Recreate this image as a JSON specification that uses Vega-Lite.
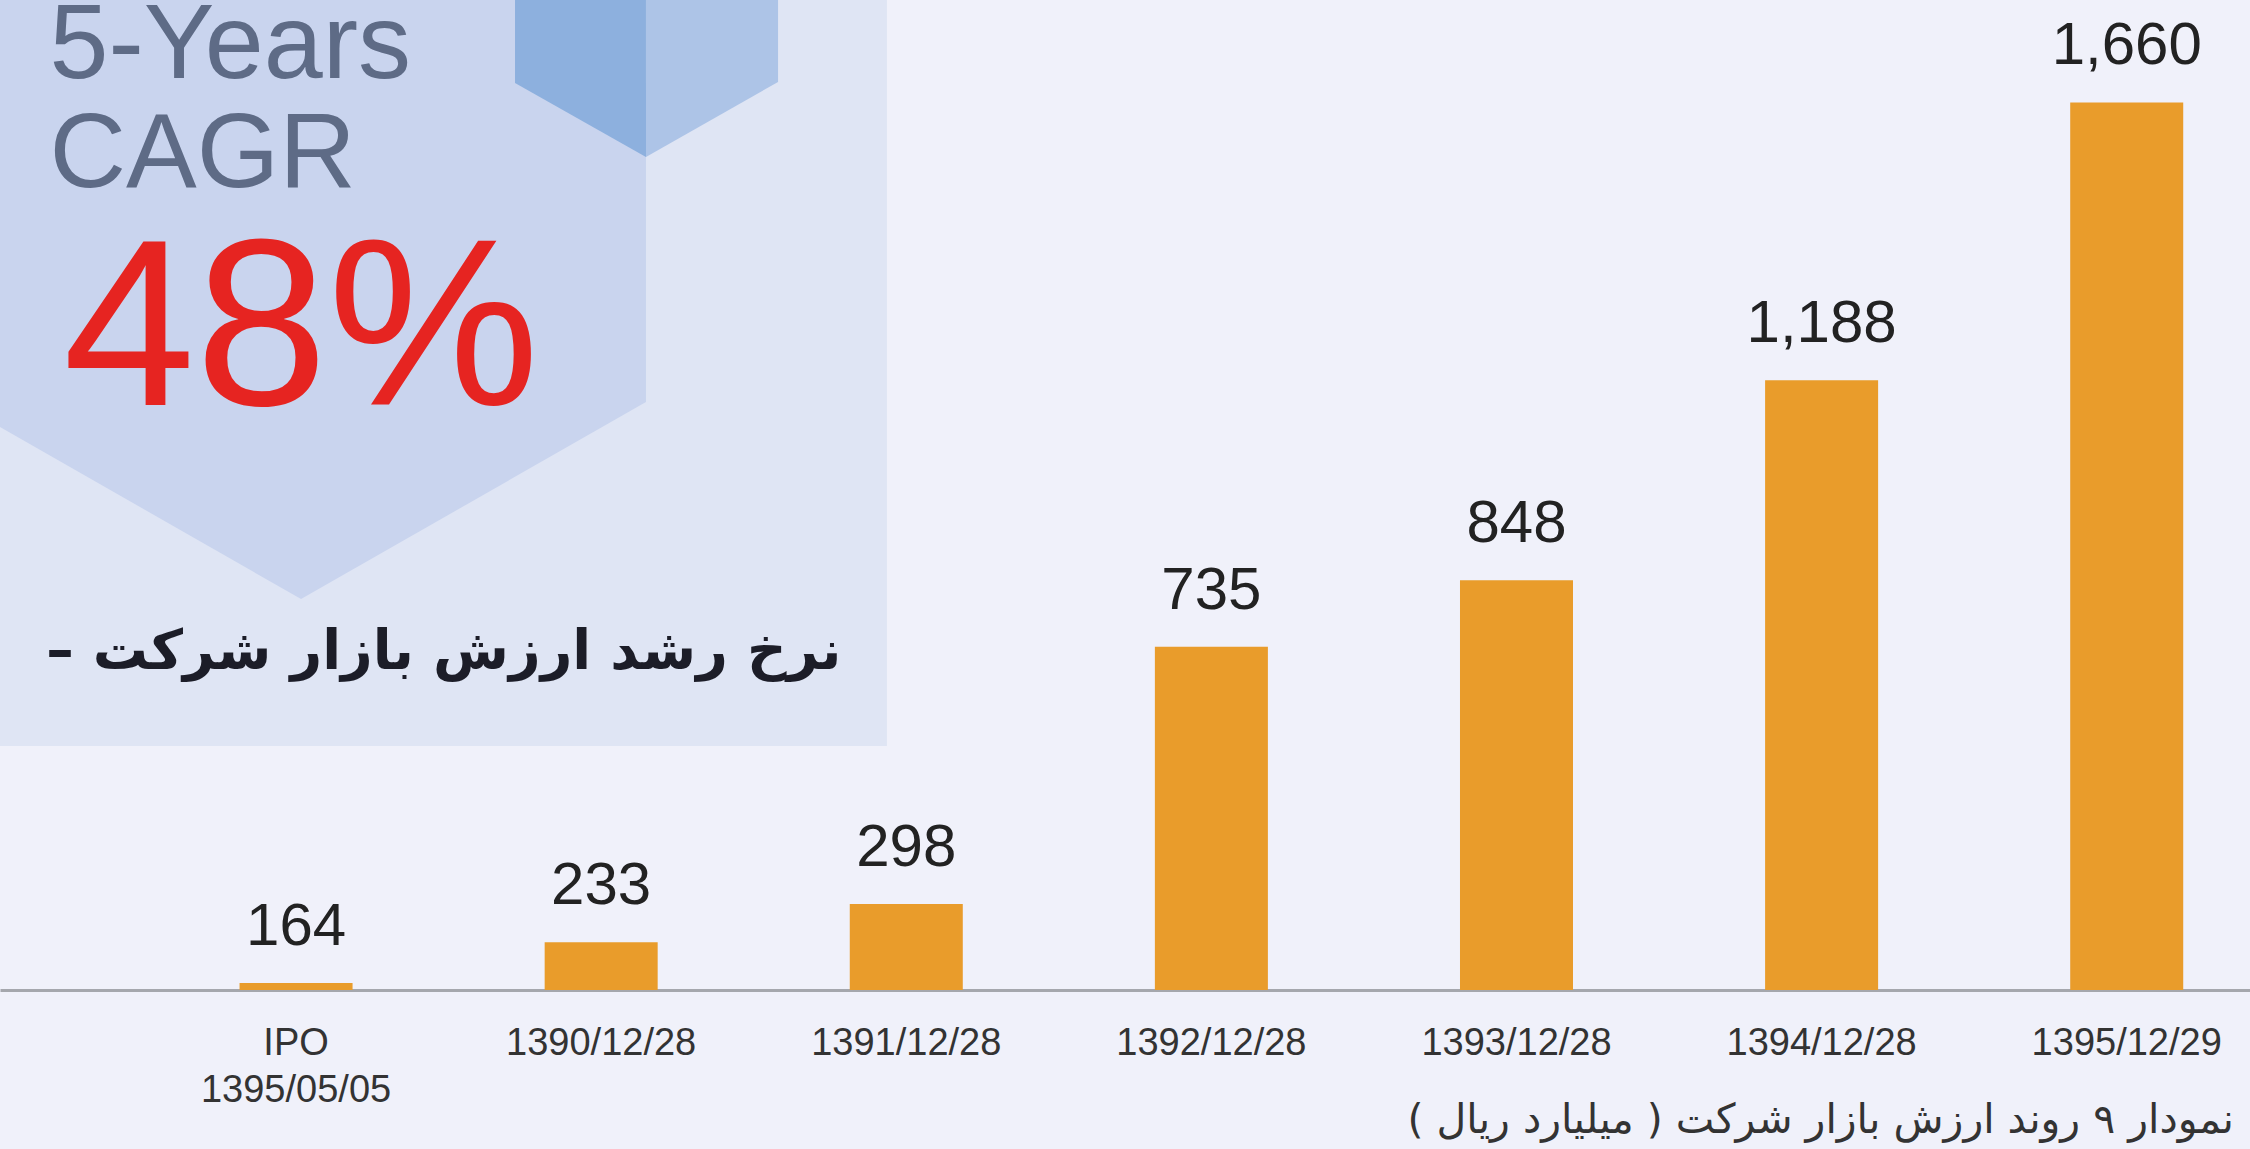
{
  "$schema": "https://vega.github.io/schema/vega-lite/v6.json",
  "width": 2250,
  "height": 990,
  "autosize": {"type": "none"},
  "padding": {"left": 0, "top": 0, "right": 0, "bottom": 159},
  "background": "#f0f1fa",
  "config": {"view": {"stroke": null}},
  "title": {
    "text": "\u200fنمودار ۹ روند ارزش بازار شرکت ( میلیارد ریال )\u200f",
    "orient": "bottom",
    "anchor": "end",
    "font": "DejaVu Sans",
    "fontSize": 41,
    "fontWeight": "normal",
    "color": "#333333",
    "offset": -8,
    "dx": -16
  },
  "datasets": {
    "values": [
      {"date": "IPO|1395/05/05", "value": 164},
      {"date": "1390/12/28", "value": 233},
      {"date": "1391/12/28", "value": 298},
      {"date": "1392/12/28", "value": 735},
      {"date": "1393/12/28", "value": 848},
      {"date": "1394/12/28", "value": 1188},
      {"date": "1395/12/29", "value": 1660}
    ],
    "panel": [{"x0": 0, "x1": 39.42, "y0": 0, "y1": 75.35}],
    "bighex": [{"px": 0, "py": 43.13}, {"px": 13.38, "py": 60.51}, {"px": 28.71, "py": 40.61}],
    "cubeLeft": [{"px": 22.89, "py": 8.38}, {"px": 28.71, "py": 15.86}],
    "cubeRight": [{"px": 28.71, "py": 15.86}, {"px": 34.58, "py": 8.28}],
    "noteYears": [{"label": "5-Years", "px": 2.2, "py": 7.88}, {"label": "CAGR", "px": 2.2, "py": 18.89}],
    "noteRate": [{"label": "48%", "px": 2.8, "py": 40.91}],
    "noteFa": [{"label": "\u200fنرخ رشد ارزش بازار شرکت –\u200f", "px": 37.4, "py": 67.6}]
  },
  "resolve": {"scale": {"x": "independent", "y": "independent"}, "axis": {"x": "independent", "y": "independent"}},
  "layer": [
    {
      "layer": [
        {
          "data": {"name": "panel"},
          "mark": {"type": "rect", "color": "#dfe5f4"},
          "encoding": {
            "x": {"field": "x0", "type": "quantitative", "scale": {"domain": [0, 100], "nice": false, "zero": false}, "axis": null},
            "x2": {"field": "x1"},
            "y": {"field": "y0", "type": "quantitative", "scale": {"domain": [0, 100], "nice": false, "zero": false, "reverse": true}, "axis": null},
            "y2": {"field": "y1"}
          }
        },
        {
          "data": {"name": "bighex"},
          "mark": {"type": "area", "color": "#c9d4ee", "opacity": 1},
          "encoding": {
            "x": {"field": "px", "type": "quantitative", "scale": {"domain": [0, 100], "nice": false, "zero": false}, "axis": null},
            "y": {"field": "py", "type": "quantitative", "scale": {"domain": [0, 100], "nice": false, "zero": false, "reverse": true}, "axis": null},
            "y2": {"datum": 0}
          }
        },
        {
          "data": {"name": "cubeLeft"},
          "mark": {"type": "area", "color": "#8db0de", "opacity": 1},
          "encoding": {
            "x": {"field": "px", "type": "quantitative", "scale": {"domain": [0, 100], "nice": false, "zero": false}, "axis": null},
            "y": {"field": "py", "type": "quantitative", "scale": {"domain": [0, 100], "nice": false, "zero": false, "reverse": true}, "axis": null},
            "y2": {"datum": 0}
          }
        },
        {
          "data": {"name": "cubeRight"},
          "mark": {"type": "area", "color": "#adc4e7", "opacity": 1},
          "encoding": {
            "x": {"field": "px", "type": "quantitative", "scale": {"domain": [0, 100], "nice": false, "zero": false}, "axis": null},
            "y": {"field": "py", "type": "quantitative", "scale": {"domain": [0, 100], "nice": false, "zero": false, "reverse": true}, "axis": null},
            "y2": {"datum": 0}
          }
        },
        {
          "data": {"name": "noteYears"},
          "mark": {"type": "text", "align": "left", "baseline": "alphabetic", "font": "Liberation Sans", "fontSize": 106, "color": "#5e6b86"},
          "encoding": {
            "x": {"field": "px", "type": "quantitative", "scale": {"domain": [0, 100], "nice": false, "zero": false}, "axis": null},
            "y": {"field": "py", "type": "quantitative", "scale": {"domain": [0, 100], "nice": false, "zero": false, "reverse": true}, "axis": null},
            "text": {"field": "label"}
          }
        },
        {
          "data": {"name": "noteRate"},
          "mark": {"type": "text", "align": "left", "baseline": "alphabetic", "font": "Liberation Sans", "fontSize": 238, "color": "#e62421"},
          "encoding": {
            "x": {"field": "px", "type": "quantitative", "scale": {"domain": [0, 100], "nice": false, "zero": false}, "axis": null},
            "y": {"field": "py", "type": "quantitative", "scale": {"domain": [0, 100], "nice": false, "zero": false, "reverse": true}, "axis": null},
            "text": {"field": "label"}
          }
        },
        {
          "data": {"name": "noteFa"},
          "mark": {"type": "text", "align": "right", "baseline": "alphabetic", "font": "DejaVu Sans", "fontWeight": "bold", "fontSize": 55, "color": "#1c1d28"},
          "encoding": {
            "x": {"field": "px", "type": "quantitative", "scale": {"domain": [0, 100], "nice": false, "zero": false}, "axis": null},
            "y": {"field": "py", "type": "quantitative", "scale": {"domain": [0, 100], "nice": false, "zero": false, "reverse": true}, "axis": null},
            "text": {"field": "label"}
          }
        }
      ]
    },
    {
      "data": {"name": "values"},
      "encoding": {
        "x": {
          "field": "date",
          "type": "nominal",
          "sort": null,
          "scale": {"paddingInner": 0.6296, "paddingOuter": 0.502, "align": 0.782},
          "axis": {
            "title": null,
            "labelExpr": "split(datum.label, '|')",
            "labelAngle": 0,
            "labelLimit": 0,
            "ticks": false,
            "domainColor": "#a5a7ad",
            "domainWidth": 3,
            "labelFont": "Liberation Sans",
            "labelFontSize": 38,
            "labelColor": "#333333",
            "labelPadding": 34,
            "labelLineHeight": 47
          }
        },
        "y": {"field": "value", "type": "quantitative", "scale": {"domain": [152, 1834], "zero": false, "nice": false}, "axis": null}
      },
      "layer": [
        {"mark": {"type": "bar", "color": "#e99c2b", "clip": true}},
        {
          "mark": {"type": "text", "dy": -38, "baseline": "alphabetic", "font": "Liberation Sans", "fontSize": 60, "color": "#222222"},
          "encoding": {"text": {"field": "value", "type": "quantitative", "format": ","}}
        }
      ]
    }
  ]
}
